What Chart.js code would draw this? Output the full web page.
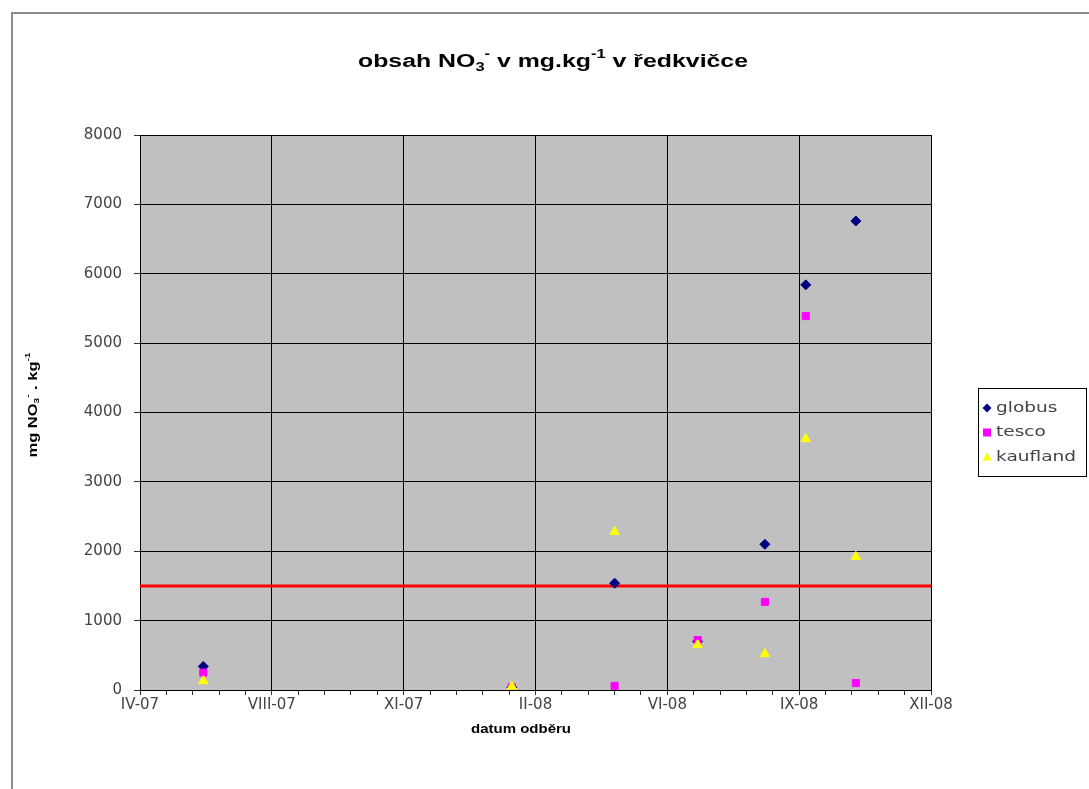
<!DOCTYPE html>
<html>
<head>
<meta charset="utf-8">
<title>obsah NO3 v ředkvičce</title>
<script src="https://cdn.jsdelivr.net/npm/chart.js@4/dist/chart.umd.min.js"></script>
<style>
  body { margin: 0; background: #fff; }
  #wrap { width: 1089px; height: 789px; }
</style>
</head>
<body>
<div id="wrap"><canvas id="myChart" width="1089" height="789"></canvas></div>
<script>
// data
const datumy = ['2007-06-15', '2008-02-04', '2008-04-22', '2008-06-24', '2008-08-14', '2008-09-14', '2008-10-22'];
const globus = [340, 40, 1540, 700, 2100, 5840, 6760];
const tesco = [250, 40, 60, 720, 1270, 5390, 100];
const kaufland = [130, 50, 2280, 650, 520, 3620, 1920];
const limit = 1500;

// osa x jako v Excelu (sériová čísla dnů)
const osaOd = 39200;
const osaDo = 39800;
const krok = 100;
const mesice = ['I', 'II', 'III', 'IV', 'V', 'VI', 'VII', 'VIII', 'IX', 'X', 'XI', 'XII'];

const nula = Date.UTC(1899, 11, 30);
const naSerial = (s) => Math.round((Date.parse(s) - nula) / 86400000);
const naPopisek = (v) => {
  const d = new Date(nula + v * 86400000);
  return mesice[d.getUTCMonth()] + '-' + String(d.getUTCFullYear()).slice(2);
};
const body = (hodnoty) => datumy.map((d, i) => ({ x: naSerial(d), y: hodnoty[i] }));

const font = "'Liberation Sans', Arial, sans-serif";
const fontTick = "'DejaVu Sans', sans-serif";

// text s indexy, roztažený na danou šířku (obrázek je vodorovně roztažený)
function kresliText(ctx, casti, x, y, size, sirka, rodina) {
  const f = (s) => 'bold ' + s + 'px ' + rodina;
  let w = 0;
  casti.forEach(c => {
    ctx.font = f(c[1] ? Math.round(size * 0.65) : size);
    w += ctx.measureText(c[0]).width;
  });
  const sx = sirka ? sirka / w : 1;
  ctx.save();
  ctx.translate(x, y);
  ctx.scale(sx, 1);
  let px = -w / 2;
  ctx.textBaseline = 'middle';
  ctx.textAlign = 'left';
  casti.forEach(c => {
    const s = c[1] ? Math.round(size * 0.65) : size;
    ctx.font = f(s);
    let dy = 0;
    if (c[1] === 'sub') dy = size * 0.3;
    if (c[1] === 'sup') dy = -size * 0.38;
    ctx.fillText(c[0], px, dy);
    px += ctx.measureText(c[0]).width;
  });
  ctx.restore();
}

function znacka(ctx, styl, barva, x, y) {
  ctx.fillStyle = barva;
  ctx.beginPath();
  if (styl === 'rectRot') {
    ctx.moveTo(x, y - 4.5); ctx.lineTo(x + 4.5, y); ctx.lineTo(x, y + 4.5); ctx.lineTo(x - 4.5, y);
  } else if (styl === 'rect') {
    ctx.rect(x - 4, y - 4, 8, 8);
  } else {
    ctx.moveTo(x, y - 4.5); ctx.lineTo(x + 4.5, y + 3.5); ctx.lineTo(x - 4.5, y + 3.5);
  }
  ctx.closePath();
  ctx.fill();
}

const popisky = {
  id: 'popisky',
  beforeDraw(chart) {
    const { ctx, chartArea: a } = chart;
    ctx.save();
    ctx.fillStyle = '#c0c0c0';
    ctx.fillRect(a.left, a.top, a.right - a.left, a.bottom - a.top);
    ctx.restore();
  },
  afterDraw(chart) {
    const ctx = chart.ctx;
    ctx.save();
    // rámeček grafu
    ctx.strokeStyle = '#8c8c8c';
    ctx.lineWidth = 2;
    ctx.strokeRect(12, 13, 1100, 800);

    ctx.fillStyle = '#000';
    kresliText(ctx, [['obsah NO'], ['3', 'sub'], ['-', 'sup'], [' v mg.kg'], ['-1', 'sup'], [' v ředkvičce']], 553, 62, 18, 390, font);
    kresliText(ctx, [['datum odběru']], 521, 729, 13, 100, font);

    ctx.save();
    ctx.translate(33, 405);
    ctx.rotate(-Math.PI / 2);
    kresliText(ctx, [['mg NO'], ['3', 'sub'], ['-', 'sup'], [' . kg'], ['-1', 'sup']], 0, 0, 13, 105, font);
    ctx.restore();

    // legenda
    ctx.strokeStyle = '#000';
    ctx.lineWidth = 1;
    ctx.fillStyle = '#fff';
    ctx.fillRect(978.5, 388.5, 108, 88);
    ctx.strokeRect(978.5, 388.5, 108, 88);
    const polozky = [['globus', 'rectRot', '#000080'], ['tesco', 'rect', '#ff00ff'], ['kaufland', 'triangle', '#ffff00']];
    ctx.font = '14px ' + fontTick;
    const sx = 80 / ctx.measureText('kaufland').width;
    polozky.forEach((p, i) => {
      const y = 408 + i * 24.5;
      znacka(ctx, p[1], p[2], 987, y);
      ctx.save();
      ctx.translate(996, y);
      ctx.scale(sx, 1);
      ctx.fillStyle = '#444';
      ctx.font = '14px ' + fontTick;
      ctx.textAlign = 'left';
      ctx.textBaseline = 'middle';
      ctx.fillText(p[0], 0, 0);
      ctx.restore();
    });
    ctx.restore();
  }
};

const ctx = document.getElementById('myChart').getContext('2d');
const myChart = new Chart(ctx, {
  type: 'scatter',
  data: {
    datasets: [
      {
        label: 'globus',
        data: body(globus),
        pointStyle: 'rectRot',
        pointRadius: 5,
        backgroundColor: '#000080',
        borderColor: '#000080',
        order: 2
      },
      {
        label: 'tesco',
        data: body(tesco),
        pointStyle: 'rect',
        pointRadius: 5,
        backgroundColor: '#ff00ff',
        borderColor: '#ff00ff',
        order: 1
      },
      {
        label: 'kaufland',
        data: body(kaufland),
        pointStyle: 'triangle',
        pointRadius: 5.5,
        backgroundColor: '#ffff00',
        borderColor: '#ffff00',
        order: 0
      },
      {
        label: 'limit',
        type: 'line',
        data: [{ x: osaOd, y: limit }, { x: osaDo, y: limit }],
        borderColor: '#ff0000',
        borderWidth: 3,
        pointRadius: 0,
        showLine: true,
        order: 3
      }
    ]
  },
  options: {
    responsive: false,
    animation: false,
    devicePixelRatio: 1,
    layout: { padding: { left: 0, top: 135, right: 158, bottom: 0 } },
    plugins: {
      legend: { display: false },
      title: { display: false },
      tooltip: { enabled: false }
    },
    scales: {
      x: {
        type: 'linear',
        min: osaOd,
        max: osaDo,
        afterFit: (s) => { s.height = 99; },
        ticks: {
          stepSize: 20,
          autoSkip: false,
          maxRotation: 0,
          padding: 1,
          color: '#444',
          font: { family: fontTick, size: 15 },
          callback: (v) => ((v - osaOd) % krok === 0 ? naPopisek(v) : '')
        },
        grid: {
          color: (c) => (c.tick && (c.tick.value - osaOd) % krok === 0 ? '#000' : 'rgba(0,0,0,0)'),
          tickColor: '#333',
          tickLength: 5,
          lineWidth: 1
        },
        border: { color: '#000', width: 1 }
      },
      y: {
        min: 0,
        max: 8000,
        afterFit: (s) => { s.width = 140; },
        ticks: {
          stepSize: 1000,
          padding: 12,
          color: '#444',
          font: { family: fontTick, size: 15 },
          callback: (v) => String(v)
        },
        grid: { color: '#000', tickColor: '#333', tickLength: 6, lineWidth: 1 },
        border: { color: '#000', width: 1 }
      }
    }
  },
  plugins: [popisky]
});
</script>
</body>
</html>
